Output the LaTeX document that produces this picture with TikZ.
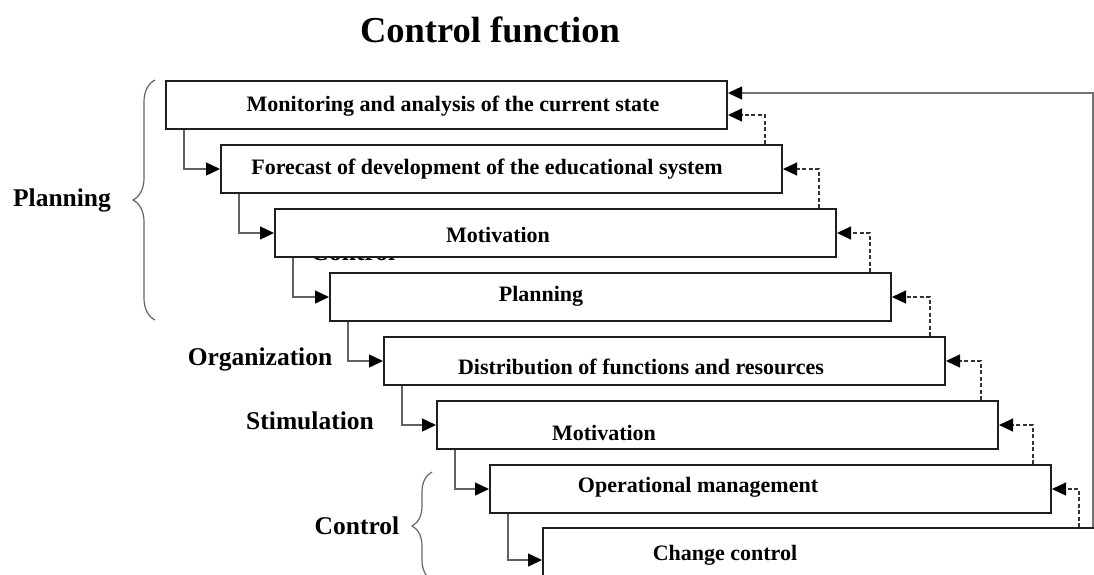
\documentclass[tikz,border=0pt]{standalone}
\usepackage{fontspec}
\setmainfont{Liberation Serif}
\usetikzlibrary{arrows.meta,decorations.pathreplacing}

\tikzset{
  stage/.style={draw=black!88, line width=2pt, fill=white, inner sep=0pt,
    minimum width=561pt, minimum height=48pt, anchor=north west},
  stagetext/.style={font=\fontsize{22}{26}\selectfont\bfseries, inner sep=0pt},
  sidelabel/.style={font=\fontsize{25.5}{30}\selectfont\bfseries, inner sep=0pt},
  tip/.style={-{Triangle[length=14pt,width=13pt,color=black]}},
  flow/.style={draw=black!62, line width=1.4pt, tip},
  back/.style={draw=black!80, line width=1.1pt, dash pattern=on 4pt off 2.5pt, tip},
  loop/.style={draw=black!55, line width=1.4pt, tip},
  curly/.style={draw=black!60, line width=1.2pt, decorate,
    decoration={brace, amplitude=22pt}},
}

\begin{document}
\begin{tikzpicture}[x=1pt, y=-1pt]
\useasboundingbox (0,0) rectangle (1094,574);

% title
\node[font=\fontsize{36.5}{42}\selectfont\bfseries, inner sep=0pt] (title) at (490,30) {Control function};

% label partly covered by the third stage box
\node[sidelabel, anchor=base] (ctrlfrag) at (353,260) {Control};

% stage boxes, stepping down to the right
\node[stage] (b1) at (165,80)  {};
\node[stage] (b2) at (220,144) {};
\node[stage] (b3) at (274,208) {};
\node[stage] (b4) at (329,272) {};
\node[stage] (b5) at (383,336) {};
\node[stage] (b6) at (436,400) {};
\node[stage] (b7) at (489,464) {};
\node[stage, minimum width=600pt, minimum height=60pt] (b8) at (542,527) {};

% stage captions
\node[stagetext] (t1) at (453,106) {Monitoring and analysis of the current state};
\node[stagetext] (t2) at (487,169) {Forecast of development of the educational system};
\node[stagetext] (t3) at (498,235) {Motivation};
\node[stagetext] (t4) at (541,296) {Planning};
\node[stagetext] (t5) at (641,367) {Distribution of functions and resources};
\node[stagetext] (t6) at (604,433) {Motivation};
\node[stagetext] (t7) at (698,487) {Operational management};
\node[stagetext] (t8) at (725,555) {Change control};

% forward links between consecutive stages
\draw[flow] ([xshift=19pt]b1.south west) |- (b2.west);
\draw[flow] ([xshift=19pt]b2.south west) |- (b3.west);
\draw[flow] ([xshift=19pt]b3.south west) |- (b4.west);
\draw[flow] ([xshift=19pt]b4.south west) |- (b5.west);
\draw[flow] ([xshift=19pt]b5.south west) |- (b6.west);
\draw[flow] ([xshift=19pt]b6.south west) |- (b7.west);
\draw[flow] ([xshift=19pt]b7.south west) |- ([yshift=-2pt]b8.north west |- b8.west);

% dashed feedback to the previous stage
\draw[back] ([xshift=-18pt]b2.north east) |- ([yshift=-10pt]b1.east);
\draw[back] ([xshift=-18pt]b3.north east) |- (b2.east);
\draw[back] ([xshift=-22pt]b4.north east) |- (b3.east);
\draw[back] ([xshift=-16pt]b5.north east) |- (b4.east);
\draw[back] ([xshift=-18pt]b6.north east) |- (b5.east);
\draw[back] ([xshift=-19pt]b7.north east) |- (b6.east);
\draw[back] ([xshift=537pt]b8.north west) |- (b7.east);

% overall loop back to the first stage
\draw[loop] ([xshift=551pt]b8.north west) |- ([yshift=12pt]b1.east);

% side labels and braces
\node[sidelabel] (lplan) at (62,200) {Planning};
\node[sidelabel] (lorg) at (260,359) {Organization};
\node[sidelabel] (lstim) at (310,421) {Stimulation};
\node[sidelabel] (lctrl) at (357,526) {Control};
\draw[curly] (155,320) -- (155,80);
\draw[curly, decoration={brace, amplitude=20pt}] (432,580) -- (432,472);
\end{tikzpicture}
\end{document}
